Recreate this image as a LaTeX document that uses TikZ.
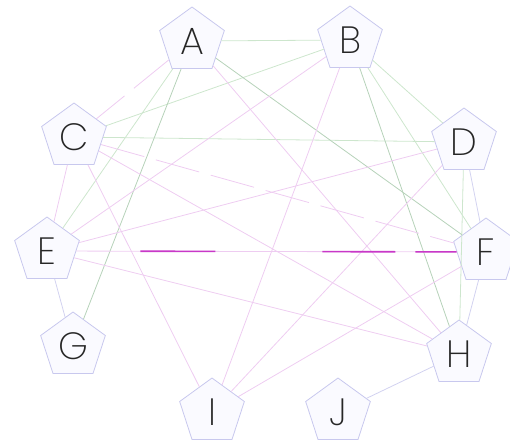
\documentclass[tikz,border=0pt]{standalone}
\usepackage{fontspec}
\setmainfont{Poppins}[UprightFont={* ExtraLight}]
\usetikzlibrary{shapes.geometric}
\definecolor{penfill}{HTML}{FAFAFF}
\definecolor{pendraw}{HTML}{C8C8EE}
\definecolor{edgegreen}{HTML}{CDE6CD}
\definecolor{edgegray}{HTML}{B6D2B9}
\definecolor{edgepink}{HTML}{EECCF1}
\definecolor{edgelav}{HTML}{D2D2F0}
\definecolor{edgemag}{HTML}{C838C8}
\begin{document}
\begin{tikzpicture}[x=1pt,y=-1pt,
  vtx/.style={regular polygon, regular polygon sides=5, minimum size=68pt,
    inner sep=0pt, draw=pendraw, fill=penfill, line width=0.8pt,
    font=\fontsize{38}{38}\selectfont, text=black!85},
  eg/.style={draw=edgegreen, line width=0.8pt},
  egr/.style={draw=edgegray, line width=0.8pt},
  ep/.style={draw=edgepink, line width=0.8pt},
  el/.style={draw=edgelav, line width=0.8pt},
  longdash/.style={dash pattern=on 45pt off 12pt},
  magdash/.style={draw=edgemag, line width=1.6pt,
    dash pattern=on 0pt off 64pt on 75pt off 107pt on 73pt off 20pt on 60pt off 100pt}]
\useasboundingbox (0,0) rectangle (510,445);
\node[vtx] (A) at (192,41) {A};
\node[vtx] (B) at (350,40) {B};
\node[vtx] (C) at (74,137) {C};
\node[vtx] (D) at (464,142) {D};
\node[vtx] (E) at (47,251) {E};
\node[vtx] (F) at (486,252) {F};
\node[vtx] (G) at (73,346) {G};
\node[vtx] (H) at (459,354) {H};
\node[vtx] (I) at (212,412) {I};
\node[vtx] (J) at (338,412) {J};
% green edges
\draw[eg] (A) -- (B);
\draw[eg] (B) -- (C);
\draw[eg] (C) -- (D);
\draw[eg] (B) -- (D);
\draw[eg] (D) -- (H);
\draw[eg] (A) -- (E);
\draw[eg] (B) -- (F);
\draw[egr] (A) -- (F);
\draw[egr] (A) -- (G);
\draw[egr] (B) -- (H);
% pink edges
\draw[ep,longdash] (A) -- (C);
\draw[ep] (A) -- (H);
\draw[ep] (B) -- (E);
\draw[ep] (B) -- (I);
\draw[ep] (C) -- (E);
\draw[ep] (C) -- (I);
\draw[ep,longdash] (C) -- (F);
\draw[ep] (C) -- (H);
\draw[ep] (D) -- (E);
\draw[ep] (D) -- (I);
\draw[ep] (E) -- (H);
\draw[ep] (F) -- (I);
% lavender edges
\draw[el] (D) -- (F);
\draw[el] (F) -- (H);
\draw[el] (E) -- (G);
\draw[el] (H) -- (J);
% E--F
\draw[ep] (E) -- (F);
\draw[magdash] (E) -- (F);
\end{tikzpicture}
\end{document}
